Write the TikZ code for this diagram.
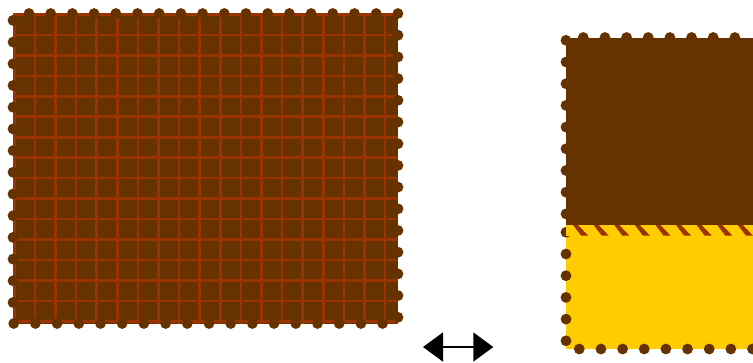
\documentclass[tikz,border=0pt]{standalone}
\usetikzlibrary{arrows.meta}
\definecolor{choc}{HTML}{663300}
\definecolor{chocline}{HTML}{993300}
\definecolor{cream}{HTML}{FFCC00}
\tikzset{
  chocdot/.style={fill=choc},
  gridline/.style={draw=chocline, line width=2.6pt},
  hatchmark/.style={fill=chocline},
  bigtip/.tip={Triangle[length=20pt,width=29pt]},
  dblarrow/.style={draw=black, line width=1.6pt, bigtip-bigtip},
}
\begin{document}
\begin{tikzpicture}[x=1pt,y=-1pt]
\useasboundingbox (0,0) rectangle (753,362);
\clip (0,0) rectangle (753,362);
% ---------- left bar ----------
\fill[choc] (13,13.5) rectangle (398,323.5);
\foreach \k in {0,...,18} \draw[gridline] ({14.2+20.6*\k},13.5) -- ({14.2+20.6*\k},323.5);
\foreach \k in {0,...,15} \draw[gridline] (13,{14.4+20.47*\k}) -- (398,{14.4+20.47*\k});
\foreach \k in {0,...,17} \fill[chocdot] ({29+21.7*\k},13.5) circle (5.4);
\foreach \k in {1,...,14} \fill[chocdot] (398,{13.5+21.7*\k}) circle (5.4);
\foreach \k in {0,...,17} \fill[chocdot] ({382.6-21.7*\k},323.5) circle (5.4);
\foreach \k in {0,...,13} \fill[chocdot] (13,{302.5-21.7*\k}) circle (5.4);
% ---------- right bar ----------
\fill[choc] (566,37.5) rectangle (800,225);
\foreach \k in {0,...,7} \fill[chocdot] ({583.3+21.65*\k},37.5) circle (5.4);
\foreach \k in {0,...,8} \fill[chocdot] (566,{40.3+21.7*\k}) circle (5.4);
\fill[cream] (566,225) rectangle (800,348.5);
\foreach \k in {0,...,5} \fill[chocdot] (566,{232.3+21.7*\k}) circle (5.4);
\foreach \k in {0,...,8} \fill[chocdot] ({579.3+21.65*\k},349) circle (5.4);
% melted strip
\fill[cream] (566,225) rectangle (800,235.5);
\foreach \k in {0,...,8}
  \fill[hatchmark] ({573+20.6*\k},225) -- ({578+20.6*\k},225) -- ({588+20.6*\k},235.5) -- ({581+20.6*\k},235.5) -- cycle;
% ---------- arrow ----------
\coordinate (al) at (423,347);
\coordinate (ar) at (493.3,347);
\draw[dblarrow] (al) -- (ar);
\end{tikzpicture}
\end{document}
